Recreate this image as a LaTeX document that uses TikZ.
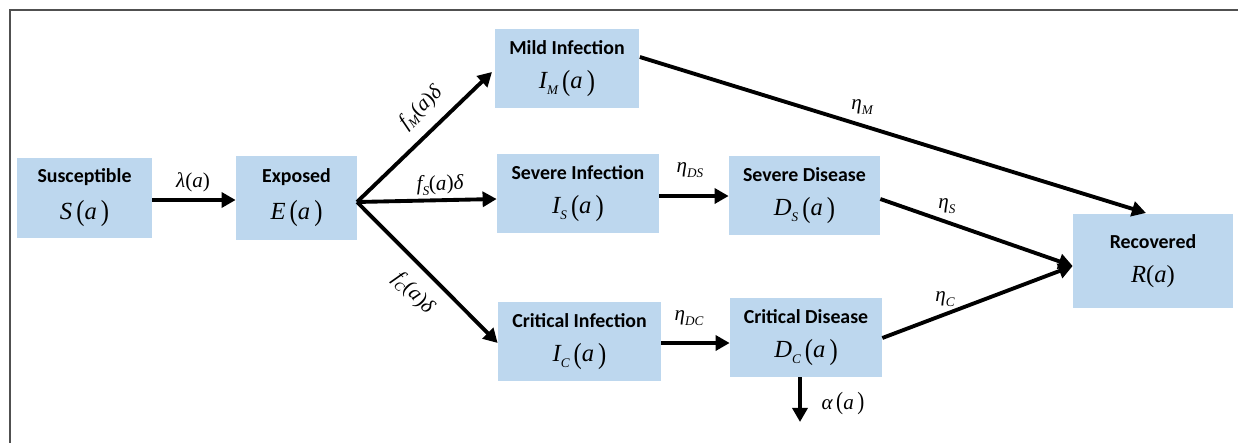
\documentclass[tikz,border=0pt]{standalone}
\usepackage{fontspec}
\usepackage{graphicx}
\setmainfont{Carlito}
\newfontfamily\tms{Liberation Serif}
\usetikzlibrary{arrows.meta}
\definecolor{boxblue}{HTML}{BDD7EE}
\definecolor{framegray}{HTML}{505050}
\tikzset{
  box/.style={fill=boxblue, draw=none, align=center, inner sep=0pt,
    font=\fontsize{11.3}{12}\selectfont},
  flow/.style={line width=2.2pt, -{Triangle[length=8pt,width=8.5pt]}},
  plain/.style={line width=2.2pt},
  lbl/.style={inner sep=0pt, font=\fontsize{12}{13}\tms\selectfont},
}
\newcommand{\mi}[1]{{\tms\itshape #1}}
\newcommand{\sbs}[1]{\raisebox{-0.45ex}{\fontsize{7.5}{7.5}\selectfont\tms\itshape #1}}
\newcommand{\lp}{\raisebox{-0.1ex}{\scalebox{1}[1.18]{\tms(}}}
\newcommand{\rp}{\raisebox{-0.1ex}{\scalebox{1}[1.18]{\tms)}}}
\newcommand{\ofa}{{\tms(}\mi{a}{\tms)}}
\newcommand{\ofab}{\,\lp\mi{a}\,\rp}
\newcommand{\bx}[2]{\textbf{#1}\\[7.5pt]{\fontsize{14}{15}\selectfont #2}}
\begin{document}
\begin{tikzpicture}[x=0.02cm,y=-0.02cm]
\useasboundingbox (0,0) rectangle (1238,443);
\draw[framegray, line width=1.1pt] (10,443) -- (10,10) -- (1238,10);

\node[box, minimum width=2.7cm, minimum height=1.6cm] (S) at (84.5,198) {\bx{Susceptible}{\mi{S}\ofab}};
\node[box, minimum width=2.42cm, minimum height=1.68cm] (E) at (296.5,198) {\bx{Exposed}{\mi{E}\ofab}};
\node[box, minimum width=2.9cm, minimum height=1.58cm] (IM) at (567,68.5) {\bx{Mild Infection}{\mi{I}\sbs{M}\ofab}};
\node[box, minimum width=3.24cm, minimum height=1.58cm] (IS) at (578,193.5) {\bx{Severe Infection}{\mi{I}\sbs{S}\ofab}};
\node[box, minimum width=3.26cm, minimum height=1.58cm] (IC) at (579.5,341.5) {\bx{Critical Infection}{\mi{I}\sbs{C}\ofab}};
\node[box, minimum width=3.02cm, minimum height=1.58cm] (DS) at (804.5,195.5) {\bx{Severe Disease}{\mi{D}\sbs{S}\ofab}};
\node[box, minimum width=3.04cm, minimum height=1.58cm] (DC) at (806,337.5) {\bx{Critical Disease}{\mi{D}\sbs{C}\ofab}};
\node[box, minimum width=3.2cm, minimum height=1.88cm] (R) at (1153,261) {\bx{Recovered}{\mi{R}\ofa}};

\coordinate (fork) at (357,202);
\coordinate (down) at (800,422);

\draw[flow] (S.east |- 0,200) -- (E.west |- 0,200);
\node[lbl] (lam) at (193,182) {\mi{λ}\ofa};

\draw[plain] (E.east |- 0,202) -- (fork);
\draw[flow] (fork) -- (492,72) coordinate (tM);
\draw[flow] (fork) -- (IS.west |- 0,199);
\draw[flow] (fork) -- (IC.west |- 0,343);
\node[lbl, rotate=44] (fM) at (421,108) {\mi{f}\sbs{M}\ofa\mi{δ}};
\node[lbl, rotate=2] (fS) at (440,185) {\mi{f}\sbs{S}\ofa\mi{δ}};
\node[lbl, rotate=-45] (fC) at (413,293) {\mi{f}\sbs{C}\ofa\mi{δ}};

\draw[flow] (IS.east |- 0,196) -- (DS.west |- 0,196);
\node[lbl] (eDS) at (690,170) {\mi{η}\sbs{DS}};
\draw[flow] (IC.east |- 0,343) -- (DC.west |- 0,343);
\node[lbl] (eDC) at (689,318) {\mi{η}\sbs{DC}};

\draw[flow] (IM.east |- 0,57) -- (1146,213);
\node[lbl] (eM) at (862,107) {\mi{η}\sbs{M}};
\draw[flow] (DS.east |- 0,199) -- (R.west |- 0,266);
\node[lbl] (eS) at (947,206) {\mi{η}\sbs{S}};
\draw[flow] (DC.east |- 0,338) -- (R.west |- 0,266);
\node[lbl] (eC) at (945,299) {\mi{η}\sbs{C}};

\draw[flow] (DC.south -| 800,0) -- (down);
\node[lbl] (al) at (843,404) {\mi{α}\ofab};
\end{tikzpicture}
\end{document}
